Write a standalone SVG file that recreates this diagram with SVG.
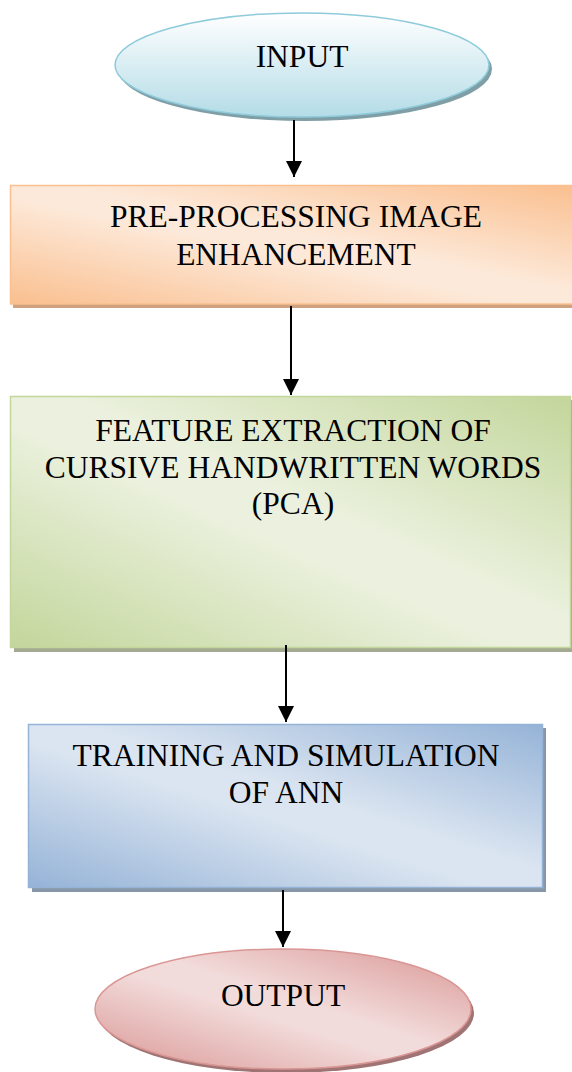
<svg xmlns="http://www.w3.org/2000/svg" width="572" height="1072" viewBox="0 0 572 1072">
  <defs>
    <style>
      .lbl { font-family: "Liberation Serif", "Times New Roman", serif; font-size: 31.5px; fill: #000; text-anchor: middle; }
      .conn { stroke: #000; stroke-width: 2; fill: none; marker-end: url(#ah); }
    </style>
    <marker id="ah" markerUnits="userSpaceOnUse" markerWidth="16" markerHeight="16" viewBox="0 0 16 16" refX="16" refY="8" orient="auto">
      <path d="M0,0 L16,8 L0,16 z" fill="#000"/>
    </marker>
    <linearGradient id="gIn" x1="0" y1="0" x2="0" y2="1">
      <stop offset="0" stop-color="#ffffff"/>
      <stop offset="1" stop-color="#b4dce7"/>
    </linearGradient>
    <linearGradient id="gOr" x1="0" y1="1" x2="1" y2="0">
      <stop offset="0" stop-color="#fabf8f"/>
      <stop offset="0.45" stop-color="#fde9d9"/>
      <stop offset="0.55" stop-color="#fde9d9"/>
      <stop offset="1" stop-color="#fabf8f"/>
    </linearGradient>
    <linearGradient id="gGr" x1="0" y1="1" x2="1" y2="0">
      <stop offset="0" stop-color="#c3d69b"/>
      <stop offset="0.45" stop-color="#ebf1de"/>
      <stop offset="0.55" stop-color="#ebf1de"/>
      <stop offset="1" stop-color="#c3d69b"/>
    </linearGradient>
    <linearGradient id="gBl" x1="0" y1="1" x2="1" y2="0">
      <stop offset="0" stop-color="#95b3d7"/>
      <stop offset="0.45" stop-color="#dbe5f1"/>
      <stop offset="0.55" stop-color="#dbe5f1"/>
      <stop offset="1" stop-color="#95b3d7"/>
    </linearGradient>
    <linearGradient id="gRd" x1="0" y1="1" x2="1" y2="0">
      <stop offset="0" stop-color="#d99694"/>
      <stop offset="0.45" stop-color="#f2dcdb"/>
      <stop offset="0.55" stop-color="#f2dcdb"/>
      <stop offset="1" stop-color="#d99694"/>
    </linearGradient>
  </defs>

  <g id="input">
    <ellipse cx="305" cy="69" rx="187" ry="52" fill="#7f9ea6"/>
    <ellipse cx="302" cy="65" rx="187" ry="52" fill="url(#gIn)" stroke="#8ecbdb" stroke-width="1.5"/>
    <text class="lbl" x="302" y="67">INPUT</text>
  </g>

  <g id="preprocessing">
    <rect x="13" y="189" width="562" height="119" fill="#cfa27f"/>
    <rect x="10.5" y="185.5" width="565" height="118.5" fill="url(#gOr)" stroke="#fac090" stroke-width="1.5"/>
    <text class="lbl" x="296" y="227">PRE-PROCESSING IMAGE</text>
    <text class="lbl" x="296" y="265">ENHANCEMENT</text>
  </g>

  <g id="feature">
    <rect x="14" y="400" width="561" height="252" fill="#a3aa91"/>
    <rect x="10.5" y="396.5" width="560" height="251" fill="url(#gGr)" stroke="#c3d69b" stroke-width="1.5"/>
    <text class="lbl" x="293" y="441">FEATURE EXTRACTION OF</text>
    <text class="lbl" x="293" y="478">CURSIVE HANDWRITTEN WORDS</text>
    <text class="lbl" x="293" y="514">(PCA)</text>
  </g>

  <g id="training">
    <rect x="32" y="728" width="514" height="164" fill="#8797a8"/>
    <rect x="28.5" y="724.5" width="514" height="163" fill="url(#gBl)" stroke="#95b3d7" stroke-width="1.5"/>
    <text class="lbl" x="286" y="766">TRAINING AND SIMULATION</text>
    <text class="lbl" x="286" y="803">OF ANN</text>
  </g>

  <g id="output">
    <ellipse cx="286" cy="1013" rx="188" ry="60" fill="#a07474"/>
    <ellipse cx="283" cy="1009" rx="188" ry="60" fill="url(#gRd)" stroke="#d99694" stroke-width="1.5"/>
    <text class="lbl" x="283" y="1006">OUTPUT</text>
  </g>

  <g id="connectors">
    <line class="conn" x1="294" y1="120" x2="294" y2="177"/>
    <line class="conn" x1="291" y1="306" x2="291" y2="395"/>
    <line class="conn" x1="286" y1="645" x2="286" y2="722"/>
    <line class="conn" x1="283" y1="890" x2="283" y2="947"/>
  </g>
</svg>
